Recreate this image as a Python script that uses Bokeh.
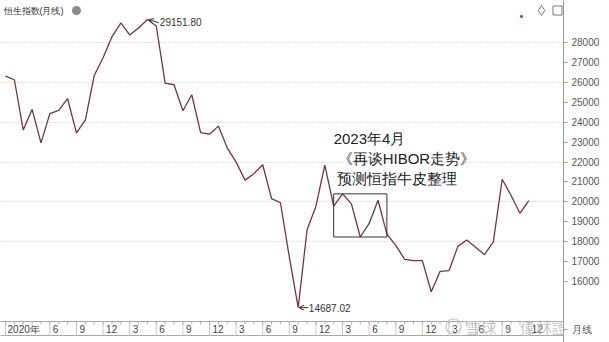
from bokeh.plotting import figure
from bokeh.models import Range1d, FixedTicker, Arrow, OpenHead
from bokeh.core.properties import value
from bokeh.embed import file_html
from bokeh.resources import INLINE

# ---------------- data ----------------
# month index 0 = Jan 2020 ... 59 = Dec 2024 (Hang Seng Index monthly close)
months = list(range(60))
closes = [26313, 26130, 23603, 24644, 22961, 24427, 24595, 25177, 23459, 24107, 26341, 27231,
          28284, 28980, 28378, 28725, 29152, 28828, 25961, 25879, 24576, 25377, 23475, 23398,
          23802, 22713, 21997, 21089, 21415, 21860, 20157, 19954, 17223, 14687, 18597, 19781,
          21842, 19786, 20400, 19895, 18234, 18916, 20079, 18382, 17810, 17112, 17043, 17047,
          15485, 16511, 16541, 17763, 18080, 17719, 17345, 17989, 21134, 20317, 19424, 20060]
peak_label = "29151.80"
low_label = "14687.02"
y_ticks = list(range(16000, 29000, 1000))
grid_levels = list(range(18000, 29000, 2000))
x_tick_months = [5, 8, 11, 14, 17, 20, 23, 26, 29, 32, 35, 38, 41, 44, 47, 50, 53, 56, 59]
x_tick_labels = ["6", "9", "12", "3", "6", "9", "12", "3", "6", "9", "12", "3", "6", "9", "12",
                 "3", "6", "9", "12"]
first_label = "2020年"
box_months = [37, 43]   # Feb 2023 .. Aug 2023 consolidation box
note_lines = ["2023年4月", "《再谈HIBOR走势》", "预测恒指牛皮整理"]
title = "恒生指数(月线)"
corner_label = "月线"
watermark = "雪球 · 偉林證券"

FONT = value("Liberation Sans")
Y0, Y1, H = 12937, 30109, 342

p = figure(frame_width=563, frame_height=H,
           x_range=Range1d(-0.564, 62.91), y_range=Range1d(Y0, Y1),
           x_axis_location=None, y_axis_location="right",
           output_backend="svg", toolbar_location=None,
           min_border_left=0, min_border_top=0, min_border_bottom=0, min_border_right=46,
           background_fill_color="white", border_fill_color="white",
           outline_line_color=None)
p.extra_x_ranges = {"px": Range1d(0, 563)}
p.extra_y_ranges = {"py": Range1d(H, 0)}

# grid
p.xgrid.grid_line_color = None
p.ygrid.ticker = FixedTicker(ticks=grid_levels)
p.ygrid.grid_line_color = "#c2c2c2"
p.ygrid.grid_line_dash = "1 2"

# right axis (the bottom-right cell label "月线" rides on the same axis, at the band row)
band_row_value = Y0 + (H - 328.5) * (Y1 - Y0) / H
ax = p.yaxis[0]
ax.ticker = FixedTicker(ticks=y_ticks + [band_row_value])
ax.major_label_overrides = {band_row_value: corner_label}
ax.axis_line_color = "#9a9a9a"
ax.major_tick_line_color = "#9a9a9a"
ax.major_tick_out = 4
ax.major_tick_in = 0
ax.minor_tick_line_color = None
ax.major_label_text_font = "Liberation Sans"
ax.major_label_text_font_size = "10px"
ax.major_label_text_color = "#555555"
ax.major_label_standoff = 4

# price line
p.line(months, closes, line_color="#74343e", line_width=1.3)

# consolidation box derived from data
seg = closes[box_months[0]:box_months[1] + 1]
p.quad(left=[box_months[0]], right=[box_months[1]], bottom=[min(seg)], top=[max(seg)],
       fill_color=None, line_color="#333333", line_width=1)

# annotation text
for k, t in enumerate(note_lines):
    p.text(x=[box_months[0]], y=[23180 - k * 1004], text=[t], text_font=FONT,
           text_font_size="15px", text_color="#222222", text_baseline="middle",
           text_align="left", x_offset=[0 if k == 0 else 4 if k == 1 else 3])

# peak / low markers
ip = closes.index(max(closes))
il = closes.index(min(closes))
p.add_layout(Arrow(x_start=ip + 1.3, y_start=closes[ip] - 160, x_end=ip + 0.15, y_end=closes[ip],
                   end=OpenHead(size=5, line_color="#333333", line_width=1),
                   line_color="#333333", line_width=1))
p.text(x=[ip + 1.4], y=[closes[ip] - 120], text=[peak_label], text_font=FONT,
       text_font_size="10px", text_color="#333333", text_baseline="middle", text_align="left")
p.add_layout(Arrow(x_start=il + 1.15, y_start=closes[il], x_end=il + 0.1, y_end=closes[il],
                   end=OpenHead(size=5, line_color="#333333", line_width=1),
                   line_color="#333333", line_width=1))
p.text(x=[il + 1.2], y=[closes[il]], text=[low_label], text_font=FONT,
       text_font_size="10px", text_color="#333333", text_baseline="middle", text_align="left")

# ---- bottom time band ----
p.segment(x0=[0, 0], x1=[563, 563], y0=[321, 335], y1=[321, 335], x_range_name="px",
          y_range_name="py", line_color="#a8a8a8", line_width=1)
sep = [0] + x_tick_months
p.segment(x0=sep, x1=sep, y0=[321] * len(sep), y1=[335] * len(sep), y_range_name="py",
          line_color="#c8c8c8", line_width=1)
p.segment(x0=months, x1=months, y0=[321] * len(months), y1=[324] * len(months),
          y_range_name="py", line_color="#b0b0b0", line_width=1)
p.text(x=x_tick_months, y=[328.5] * len(x_tick_months), text=x_tick_labels, y_range_name="py",
       x_offset=3, text_font=FONT, text_font_size="10px", text_color="#444444",
       text_baseline="middle", text_align="left")
p.text(x=[0], y=[328.5], text=[first_label], y_range_name="py", x_offset=2, text_font=FONT,
       text_font_size="10px", text_color="#444444", text_baseline="middle", text_align="left")

# watermark
p.scatter(x=[453], y=[326], x_range_name="px", y_range_name="py", marker="circle", size=15,
          fill_color=None, line_color="#c4c4c4", line_width=1.2)
p.text(x=[464], y=[326], text=[watermark], x_range_name="px", y_range_name="py",
       text_font=value("Noto Sans CJK SC"), text_font_size="16px", text_color="#bdbdbd",
       text_alpha=0.85, text_baseline="middle", text_align="left")

# ---- header ----
p.text(x=[3], y=[10], text=[title], x_range_name="px", y_range_name="py", text_font=FONT,
       text_font_size="9px", text_color="#333333", text_baseline="middle", text_align="left")
p.scatter(x=[76], y=[10], x_range_name="px", y_range_name="py", marker="circle", size=9,
          fill_color="#8a8a8a", line_color=None)
p.scatter(x=[541], y=[10], x_range_name="px", y_range_name="py", marker="diamond", size=10,
          fill_color=None, line_color="#777777", line_width=1)
p.scatter(x=[557], y=[10], x_range_name="px", y_range_name="py", marker="square", size=9,
          fill_color=None, line_color="#777777", line_width=1)
p.scatter(x=[521], y=[16], x_range_name="px", y_range_name="py", marker="square", size=2.5,
          fill_color="#8a1f4a", line_color=None)

open("out.html", "w").write(file_html(p, INLINE))
